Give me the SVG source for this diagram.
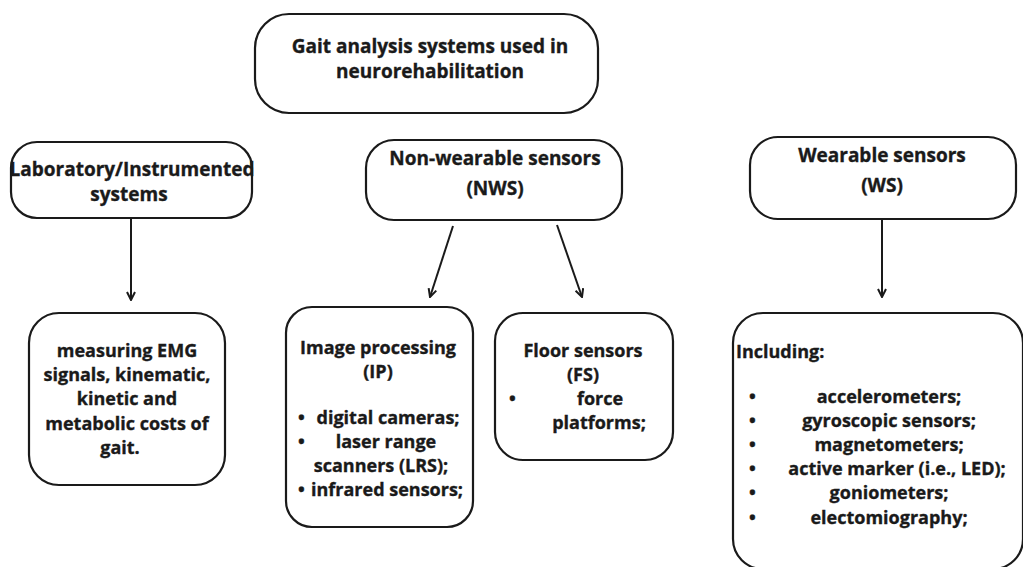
<svg xmlns="http://www.w3.org/2000/svg" width="1023" height="567" viewBox="0 0 1023 567">
  <defs>
    <style>
      .box { fill: #ffffff; stroke: #1a1a1a; stroke-width: 2.2; }
      .t { font-family: "Open Sans", "Noto Sans", sans-serif; font-weight: 700; font-size: 18px; fill: #1a1a1a; stroke: #1a1a1a; stroke-width: 0.35; text-anchor: middle; }
      .h { font-size: 19px; }
      .l { text-anchor: start; }
      .edge { stroke: #1a1a1a; stroke-width: 2; fill: none; marker-end: url(#arrow); }
    </style>
    <marker id="arrow" viewBox="0 0 10 10" refX="9" refY="5" markerWidth="5" markerHeight="5" orient="auto-start-reverse" markerUnits="strokeWidth">
      <path d="M1,1 L9,5 L1,9" fill="none" stroke="#1a1a1a" stroke-width="2"/>
    </marker>
  </defs>
  <rect width="1023" height="567" fill="#ffffff"/>

  <g id="connectors">
    <line class="edge" x1="131" y1="219" x2="131" y2="300"/>
    <line class="edge" x1="453" y1="226" x2="430" y2="297"/>
    <line class="edge" x1="557" y1="225" x2="582" y2="297"/>
    <line class="edge" x1="882" y1="219" x2="882" y2="297"/>
  </g>

  <g id="root">
    <rect class="box" x="255" y="14" width="343" height="99" rx="34"/>
    <text class="t h" x="430" y="53">Gait analysis systems used in</text>
    <text class="t h" x="430" y="78">neurorehabilitation</text>
  </g>

  <g id="lab">
    <rect class="box" x="11" y="142" width="241" height="76" rx="26"/>
    <text class="t h" x="132" y="176">Laboratory/Instrumented</text>
    <text class="t h" x="129" y="201">systems</text>
  </g>

  <g id="nws">
    <rect class="box" x="366" y="140" width="256" height="80" rx="28"/>
    <text class="t h" x="495" y="165">Non-wearable sensors</text>
    <text class="t h" x="495" y="195">(NWS)</text>
  </g>

  <g id="ws">
    <rect class="box" x="750" y="137" width="266" height="82" rx="28"/>
    <text class="t h" x="882" y="162">Wearable sensors</text>
    <text class="t h" x="882" y="192">(WS)</text>
  </g>

  <g id="lab-detail">
    <rect class="box" x="29" y="313" width="196" height="172" rx="30"/>
    <text class="t" x="127" y="357">measuring EMG</text>
    <text class="t" x="127" y="381">signals, kinematic,</text>
    <text class="t" x="127" y="405">kinetic and</text>
    <text class="t" x="127" y="430">metabolic costs of</text>
    <text class="t" x="120" y="454">gait.</text>
  </g>

  <g id="ip">
    <rect class="box" x="286" y="307" width="187" height="220" rx="26"/>
    <text class="t" x="378" y="354">Image processing</text>
    <text class="t" x="378" y="378">(IP)</text>
    <text class="t l" x="298" y="424">•</text>
    <text class="t" x="388" y="424">digital cameras;</text>
    <text class="t l" x="298" y="448">•</text>
    <text class="t" x="386" y="448">laser range</text>
    <text class="t" x="381" y="472">scanners (LRS);</text>
    <text class="t l" x="298" y="496">•</text>
    <text class="t" x="387" y="496">infrared sensors;</text>
  </g>

  <g id="fs">
    <rect class="box" x="495" y="313" width="178" height="147" rx="28"/>
    <text class="t" x="583" y="357">Floor sensors</text>
    <text class="t" x="583" y="381">(FS)</text>
    <text class="t l" x="509" y="405">•</text>
    <text class="t" x="600" y="405">force</text>
    <text class="t" x="599" y="429">platforms;</text>
  </g>

  <g id="ws-detail">
    <rect class="box" x="733" y="313" width="290" height="256" rx="30"/>
    <text class="t l" x="736" y="358">Including:</text>
    <text class="t l" x="749" y="403">•</text>
    <text class="t" x="889" y="403">accelerometers;</text>
    <text class="t l" x="749" y="427">•</text>
    <text class="t" x="889" y="427">gyroscopic sensors;</text>
    <text class="t l" x="749" y="451">•</text>
    <text class="t" x="889" y="451">magnetometers;</text>
    <text class="t l" x="749" y="475">•</text>
    <text class="t" x="897" y="475">active marker (i.e., LED);</text>
    <text class="t l" x="749" y="499">•</text>
    <text class="t" x="889" y="499">goniometers;</text>
    <text class="t l" x="749" y="524">•</text>
    <text class="t" x="889" y="524">electomiography;</text>
  </g>
</svg>
